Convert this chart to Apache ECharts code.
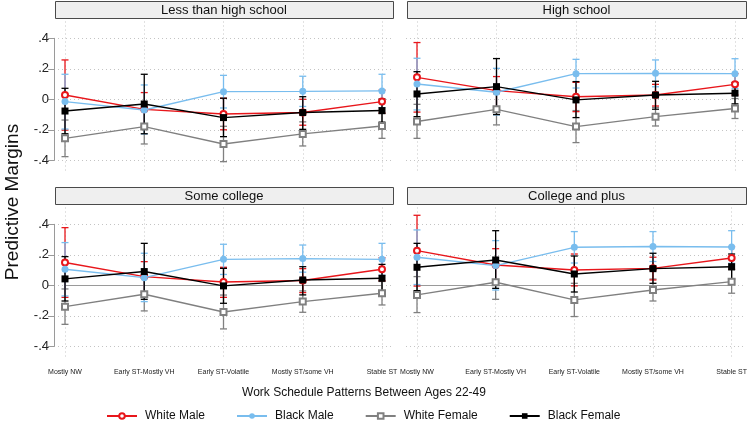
<!DOCTYPE html>
<html>
<head>
<meta charset="utf-8">
<script src="https://cdn.jsdelivr.net/npm/echarts@6/dist/echarts.min.js"></script>
<style>html,body{margin:0;padding:0;background:#fff;}#chart{width:750px;height:427px;}</style>
</head>
<body>
<div id="chart"></div>
<script>
// ---------- DATA ----------
const categories = ['Mostly NW', 'Early ST-Mostly VH', 'Early ST-Volatile', 'Mostly ST/some VH', 'Stable ST'];
const panelTitles = ['Less than high school', 'High school', 'Some college', 'College and plus'];
const seriesNames = ['White Male', 'Black Male', 'White Female', 'Black Female'];
const yTickValues = [-0.4, -0.2, 0, 0.2, 0.4];
const yTickLabels = ['-.4', '-.2', '0', '.2', '.4'];
const xTitle = 'Work Schedule Patterns Between Ages 22-49';
const yTitle = 'Predictive Margins';

// Less than high school
const lhs_WM = [0.028, -0.066, -0.096, -0.087, -0.015];
const lhs_WM_lo = [-0.202, -0.176, -0.200, -0.170, -0.090];
const lhs_WM_hi = [0.258, 0.044, 0.007, 0.000, 0.060];
const lhs_BM = [-0.015, -0.070, 0.050, 0.052, 0.055];
const lhs_BM_lo = [-0.195, -0.227, -0.057, -0.047, -0.055];
const lhs_BM_hi = [0.164, 0.094, 0.157, 0.151, 0.164];
const lhs_WF = [-0.256, -0.179, -0.293, -0.227, -0.175];
const lhs_WF_lo = [-0.376, -0.293, -0.409, -0.306, -0.256];
const lhs_WF_hi = [-0.136, -0.065, -0.177, -0.148, -0.094];
const lhs_BF = [-0.077, -0.031, -0.120, -0.087, -0.074];
const lhs_BF_lo = [-0.226, -0.226, -0.245, -0.197, -0.150];
const lhs_BF_hi = [0.072, 0.164, 0.007, 0.017, 0.002];

// High school
const hs_WM = [0.144, 0.057, 0.017, 0.028, 0.098];
const hs_WM_lo = [-0.084, -0.048, -0.081, -0.044, 0.028];
const hs_WM_hi = [0.372, 0.149, 0.111, 0.098, 0.168];
const hs_BM = [0.100, 0.046, 0.168, 0.170, 0.168];
const hs_BM_lo = [-0.070, -0.103, 0.074, 0.082, 0.071];
const hs_BM_hi = [0.269, 0.203, 0.262, 0.258, 0.266];
const hs_WF = [-0.146, -0.066, -0.179, -0.114, -0.060];
const hs_WF_lo = [-0.256, -0.168, -0.284, -0.175, -0.126];
const hs_WF_hi = [-0.033, 0.036, -0.074, -0.053, 0.005];
const hs_BF = [0.035, 0.083, -0.004, 0.028, 0.040];
const hs_BF_lo = [-0.114, -0.100, -0.120, -0.065, -0.030];
const hs_BF_hi = [0.181, 0.267, 0.116, 0.118, 0.110];

// Some college
const sc_WM = [0.149, 0.057, 0.022, 0.031, 0.105];
const sc_WM_lo = [-0.079, -0.046, -0.079, -0.048, 0.030];
const sc_WM_hi = [0.378, 0.155, 0.118, 0.109, 0.180];
const sc_BM = [0.105, 0.050, 0.170, 0.175, 0.170];
const sc_BM_lo = [-0.070, -0.107, 0.071, 0.086, 0.066];
const sc_BM_hi = [0.280, 0.210, 0.269, 0.264, 0.275];
const sc_WF = [-0.140, -0.059, -0.175, -0.107, -0.052];
const sc_WF_lo = [-0.256, -0.168, -0.286, -0.177, -0.129];
const sc_WF_hi = [-0.024, 0.050, -0.064, -0.037, 0.025];
const sc_BF = [0.042, 0.090, -0.004, 0.035, 0.046];
const sc_BF_lo = [-0.103, -0.092, -0.118, -0.063, -0.045];
const sc_BF_hi = [0.188, 0.275, 0.111, 0.122, 0.137];

// College and plus
const cp_WM = [0.227, 0.133, 0.100, 0.111, 0.179];
const cp_WM_lo = [-0.005, 0.031, -0.004, 0.035, 0.105];
const cp_WM_hi = [0.459, 0.240, 0.205, 0.184, 0.253];
const cp_BM = [0.184, 0.129, 0.249, 0.254, 0.251];
const cp_BM_lo = [0.005, -0.031, 0.146, 0.156, 0.144];
const cp_BM_hi = [0.363, 0.293, 0.352, 0.352, 0.358];
const cp_WF = [-0.063, 0.020, -0.096, -0.031, 0.024];
const cp_WF_lo = [-0.179, -0.092, -0.205, -0.103, -0.052];
const cp_WF_hi = [0.057, 0.130, 0.013, 0.041, 0.100];
const cp_BF = [0.118, 0.166, 0.074, 0.109, 0.122];
const cp_BF_lo = [-0.035, -0.020, -0.044, 0.013, 0.040];
const cp_BF_hi = [0.275, 0.358, 0.192, 0.210, 0.205];

// ---------- BUILD ----------
const panelData = [
  [[lhs_WM, lhs_WM_lo, lhs_WM_hi], [lhs_BM, lhs_BM_lo, lhs_BM_hi], [lhs_WF, lhs_WF_lo, lhs_WF_hi], [lhs_BF, lhs_BF_lo, lhs_BF_hi]],
  [[hs_WM, hs_WM_lo, hs_WM_hi], [hs_BM, hs_BM_lo, hs_BM_hi], [hs_WF, hs_WF_lo, hs_WF_hi], [hs_BF, hs_BF_lo, hs_BF_hi]],
  [[sc_WM, sc_WM_lo, sc_WM_hi], [sc_BM, sc_BM_lo, sc_BM_hi], [sc_WF, sc_WF_lo, sc_WF_hi], [sc_BF, sc_BF_lo, sc_BF_hi]],
  [[cp_WM, cp_WM_lo, cp_WM_hi], [cp_BM, cp_BM_lo, cp_BM_hi], [cp_WF, cp_WF_lo, cp_WF_hi], [cp_BF, cp_BF_lo, cp_BF_hi]]
];

const FONT = '"Liberation Sans", Arial, Helvetica, sans-serif';
const colors = ['#e8161b', '#79bdee', '#808080', '#000000'];
const symbols = ['emptyCircle', 'circle', 'emptyRect', 'rect'];
const symbolSizes = [6, 7, 6, 7];
const gridColor = '#c4c4c4';
const axisColor = '#9a9a9a';

// layout (pixels)
const panelX = [
  { dataLeft: 65, dataWidth: 317, axLeft: 54, axWidth: 338, hdrX: 55, hdrW: 338 },
  { dataLeft: 417, dataWidth: 318, axLeft: 406, axWidth: 339, hdrX: 407, hdrW: 339 }
];
const panelY = [
  { dataTop: 21.5, axTop: 38.3, hdrY: 1 },
  { dataTop: 207.5, axTop: 224.3, hdrY: 187 }
];
const DATA_H = 151, AX_H = 122;
const Y_MIN = -0.48, Y_MAX = 0.51;

const grids = [], xAxes = [], yAxes = [], lineSeries = [], errSeries = [], graphics = [];

function errRender(color) {
  return function (params, api) {
    const x = api.value(0), lo = api.value(1), hi = api.value(2);
    const p1 = api.coord([x, hi]), p2 = api.coord([x, lo]);
    const w = 3.5;
    const st = { stroke: color, lineWidth: 1.3 };
    return {
      type: 'group',
      children: [
        { type: 'line', shape: { x1: p1[0], y1: p1[1], x2: p2[0], y2: p2[1] }, style: st },
        { type: 'line', shape: { x1: p1[0] - w, y1: p1[1], x2: p1[0] + w, y2: p1[1] }, style: st },
        { type: 'line', shape: { x1: p2[0] - w, y1: p2[1], x2: p2[0] + w, y2: p2[1] }, style: st }
      ]
    };
  };
}

for (let p = 0; p < 4; p++) {
  const col = p % 2, row = Math.floor(p / 2);
  const px = panelX[col], py = panelY[row];
  const isLeft = col === 0, isBottom = row === 1;
  const gA = grids.length;
  grids.push({ left: px.dataLeft, top: py.dataTop, width: px.dataWidth, height: DATA_H, containLabel: false });
  const gB = grids.length;
  grids.push({ left: px.axLeft, top: py.axTop, width: px.axWidth, height: AX_H, containLabel: false });

  const xA = xAxes.length;
  xAxes.push({
    type: 'category', gridIndex: gA, data: categories, boundaryGap: false,
    axisLine: { show: isBottom, lineStyle: { color: axisColor, width: 1 } },
    axisTick: { show: isBottom, length: 6, lineStyle: { color: axisColor } },
    axisLabel: { show: isBottom, fontSize: 7, fontFamily: FONT, color: '#222', margin: 10, interval: 0 },
    splitLine: { show: true, lineStyle: { color: gridColor, type: [1, 3], width: 1 } }
  });
  const yA = yAxes.length;
  yAxes.push({ type: 'value', gridIndex: gA, min: Y_MIN, max: Y_MAX, show: false });

  xAxes.push({ type: 'value', gridIndex: gB, min: 0, max: 1, show: false });
  yAxes.push({
    type: 'value', gridIndex: gB, min: yTickValues[0], max: yTickValues[yTickValues.length - 1], interval: 0.2,
    axisLine: { show: isLeft, lineStyle: { color: axisColor, width: 1 } },
    axisTick: { show: isLeft, length: 6, lineStyle: { color: axisColor } },
    axisLabel: {
      show: isLeft, fontSize: 13, fontFamily: FONT, color: '#222', margin: 5,
      formatter: function (v) {
        let idx = 0, best = Infinity;
        yTickValues.forEach(function (t, i) { const d = Math.abs(t - v); if (d < best) { best = d; idx = i; } });
        return yTickLabels[idx];
      }
    },
    splitLine: { show: true, lineStyle: { color: gridColor, type: [1, 3], width: 1 } }
  });

  const order = [2, 0, 1, 3];
  order.forEach(function (s) {
    const d = panelData[p][s];
    lineSeries.push({
      name: seriesNames[s], type: 'line', xAxisIndex: xA, yAxisIndex: yA,
      data: d[0], symbol: symbols[s], symbolSize: symbolSizes[s], showSymbol: true,
      lineStyle: { color: colors[s], width: 1.4 },
      itemStyle: { color: colors[s], borderColor: colors[s], borderWidth: (s === 0 || s === 2) ? 1.5 : 0 },
      z: 4 + s, animation: false, silent: true, clip: false
    });
    errSeries.push({
      name: seriesNames[s], type: 'custom', xAxisIndex: xA, yAxisIndex: yA,
      renderItem: errRender(colors[s]),
      data: categories.map(function (c, i) { return [i, d[1][i], d[2][i]]; }),
      encode: { x: 0, y: [1, 2] },
      z: 2 + (s === 3 ? 1 : 0), animation: false, silent: true, clip: false
    });
  });

  graphics.push({
    type: 'rect', left: px.hdrX, top: py.hdrY,
    shape: { width: px.hdrW, height: 17 },
    style: { fill: '#efefef', stroke: '#4a4a4a', lineWidth: 1 }
  });
  graphics.push({
    type: 'text', x: px.hdrX + px.hdrW / 2, y: py.hdrY + 9,
    style: { text: panelTitles[p], textAlign: 'center', textVerticalAlign: 'middle', font: '13px ' + FONT, fill: '#111' }
  });
}

graphics.push({
  type: 'text', x: 364, y: 393,
  style: { text: xTitle, textAlign: 'center', textVerticalAlign: 'middle', font: '12px ' + FONT, fill: '#111' }
});
graphics.push({
  type: 'text', x: 13, y: 202, rotation: Math.PI / 2,
  style: { text: yTitle, textAlign: 'center', textVerticalAlign: 'middle', font: '19px ' + FONT, fill: '#111' }
});

const chart = echarts.init(document.getElementById('chart'), null, { renderer: 'canvas' });
chart.setOption({
  animation: false,
  backgroundColor: '#ffffff',
  grid: grids,
  xAxis: xAxes,
  yAxis: yAxes,
  legend: {
    data: seriesNames, left: 101, top: 405, itemWidth: 30, itemHeight: 7, itemGap: 31,
    textStyle: { fontSize: 12, fontFamily: FONT, color: '#111', padding: [0, 0, 0, 3] },
    selectedMode: false
  },
  graphic: graphics,
  series: lineSeries.concat(errSeries)
});
</script>
</body>
</html>
